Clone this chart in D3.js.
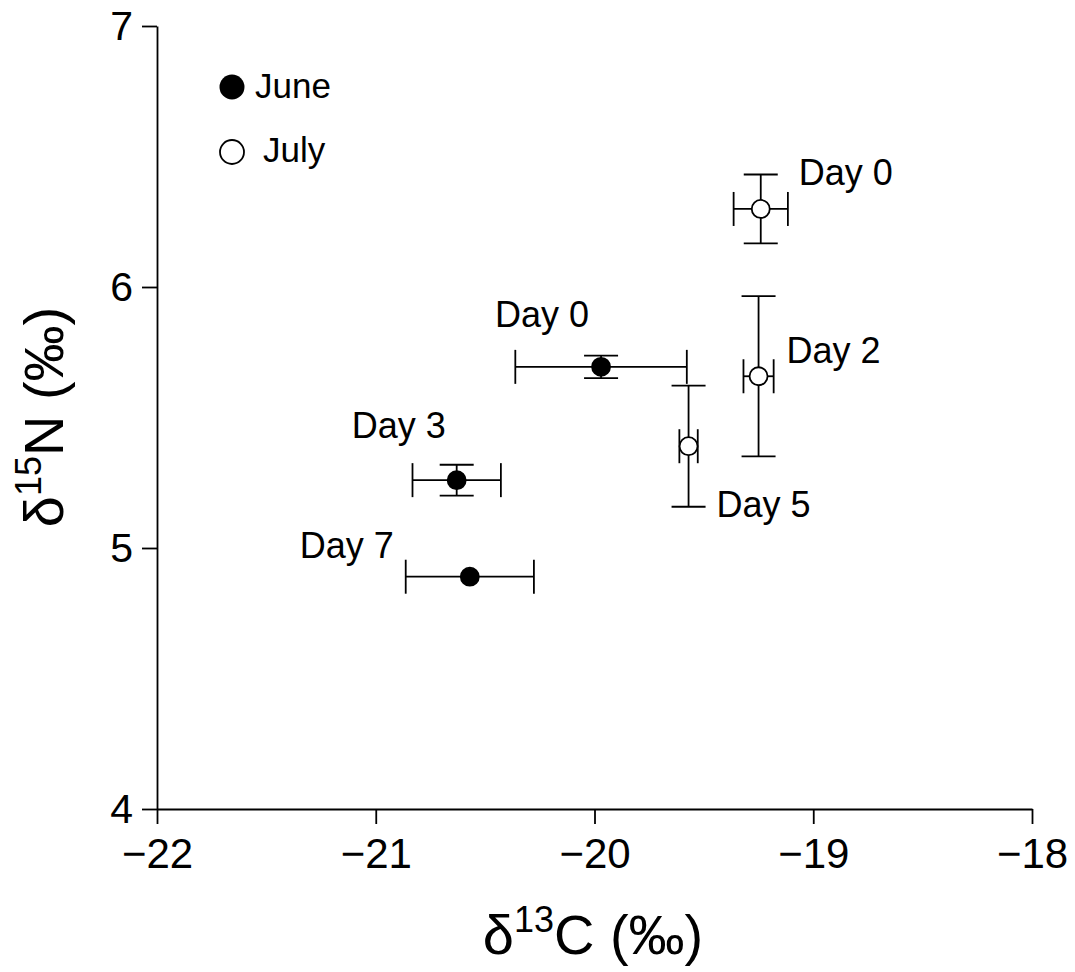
<!DOCTYPE html>
<html>
<head>
<meta charset="utf-8">
<script src="https://cdn.jsdelivr.net/npm/d3@7"></script>
<style>
  body { margin: 0; background: #fff; }
  text { font-family: "Liberation Sans", Arial, sans-serif; fill: #000; }
</style>
</head>
<body>
<div id="chart"></div>
<script>
// data (d13C, d15N, with error half-widths)
const months = ["June", "June", "June", "July", "July", "July"]
const dayLabels = ["Day 0", "Day 3", "Day 7", "Day 0", "Day 2", "Day 5"]
const d13C = [-19.97, -20.63, -20.57, -19.24, -19.25, -19.57]
const d15N = [5.694, 5.260, 4.890, 6.299, 5.658, 5.390]
const errC = [0.392, 0.202, 0.293, 0.124, 0.069, 0.042]
const errN = [0.043, 0.059, 0.015, 0.132, 0.307, 0.232]
// label offsets from the point, in pixels
const labelDx = [-106, -105, -170, 38, 28, 28]
const labelDy = [-40, -42, -19, -24, -13, 71]

const xTicks = [-22, -21, -20, -19, -18]
const yTicks = [4, 5, 6, 7]

const width = 1075
const height = 972
const margin = {top: 26, right: 43, bottom: 163, left: 157}

const svg = d3.select('#chart')
  .append("svg")
  .attr("width", width)
  .attr("height", height)

const g = svg.append("g")
  .attr("transform", "translate(" + margin.left + "," + margin.top + ")")

const w = width - margin.left - margin.right
const h = height - margin.top - margin.bottom

var x = d3.scaleLinear()
  .domain([-22, -18])
  .range([0, w])

var y = d3.scaleLinear()
  .domain([4, 7])
  .range([h, 0])

const xAxis = g.append("g")
  .attr("transform", "translate(0," + h + ")")
  .call(d3.axisBottom(x).tickValues(xTicks).tickFormat(d3.format("d")).tickSize(15).tickSizeOuter(0).tickPadding(14))
xAxis.selectAll("text").style("font-size", "42px")

const yAxis = g.append("g")
  .call(d3.axisLeft(y).tickValues(yTicks).tickFormat(d3.format("d")).tickSize(15).tickSizeOuter(0).tickPadding(9))
yAxis.selectAll("text").style("font-size", "41px")

g.selectAll(".domain, .tick line")
  .attr("stroke", "#000")
  .attr("stroke-width", 1.8)

// axis titles
const xt = svg.append("text")
  .attr("x", 593)
  .attr("y", 954)
  .attr("text-anchor", "middle")
  .style("font-size", "56px")
xt.append("tspan").text("δ")
xt.append("tspan").attr("dy", -22).style("font-size", "36px").text("13")
xt.append("tspan").attr("dy", 22).text("C (‰)")

const yt = svg.append("text")
  .attr("transform", "translate(63," + 417 + ")rotate(-90)")
  .attr("text-anchor", "middle")
  .style("font-size", "56px")
yt.append("tspan").text("δ")
yt.append("tspan").attr("dy", -22).style("font-size", "36px").text("15")
yt.append("tspan").attr("dy", 22).text("N (‰)")

// error bars
const pts = d3.range(d13C.length).map(function (i) {
  return {m: months[i], lab: dayLabels[i], cx: d13C[i], cy: d15N[i], ex: errC[i], ey: errN[i], dx: labelDx[i], dy: labelDy[i]}
})
const cap = 17
const eb = g.append("g")
  .attr("stroke", "#000")
  .attr("stroke-width", 1.8)
  .attr("fill", "none")

pts.forEach(function (d) {
  const px = x(d.cx), py = y(d.cy)
  const x0 = x(d.cx - d.ex), x1 = x(d.cx + d.ex)
  const y0 = y(d.cy - d.ey), y1 = y(d.cy + d.ey)
  eb.append("line").attr("x1", x0).attr("x2", x1).attr("y1", py).attr("y2", py)
  eb.append("line").attr("x1", x0).attr("x2", x0).attr("y1", py - cap).attr("y2", py + cap)
  eb.append("line").attr("x1", x1).attr("x2", x1).attr("y1", py - cap).attr("y2", py + cap)
  if (Math.abs(y0 - y1) > 20) {
    eb.append("line").attr("x1", px).attr("x2", px).attr("y1", y0).attr("y2", y1)
    eb.append("line").attr("x1", px - cap).attr("x2", px + cap).attr("y1", y0).attr("y2", y0)
    eb.append("line").attr("x1", px - cap).attr("x2", px + cap).attr("y1", y1).attr("y2", y1)
  }
})

g.append("g")
  .selectAll("circle")
  .data(pts)
  .enter()
  .append("circle")
  .attr("cx", function (d) { return x(d.cx) })
  .attr("cy", function (d) { return y(d.cy) })
  .attr("r", 9)
  .attr("fill", function (d) { return d.m == "June" ? "#000" : "#fff" })
  .attr("stroke", "#000")
  .attr("stroke-width", 1.8)

g.append("g")
  .selectAll("text")
  .data(pts)
  .enter()
  .append("text")
  .attr("x", function (d) { return x(d.cx) + d.dx })
  .attr("y", function (d) { return y(d.cy) + d.dy })
  .style("font-size", "36px")
  .text(function (d) { return d.lab })

// legend
svg.append("circle").attr("cx", 232).attr("cy", 87).attr("r", 12.5).attr("fill", "#000")
svg.append("text").attr("x", 255).attr("y", 98).style("font-size", "35px").text("June")
svg.append("circle").attr("cx", 232).attr("cy", 152).attr("r", 12).attr("fill", "#fff")
  .attr("stroke", "#000").attr("stroke-width", 1.8)
svg.append("text").attr("x", 263).attr("y", 162).style("font-size", "35px").text("July")
</script>
</body>
</html>
